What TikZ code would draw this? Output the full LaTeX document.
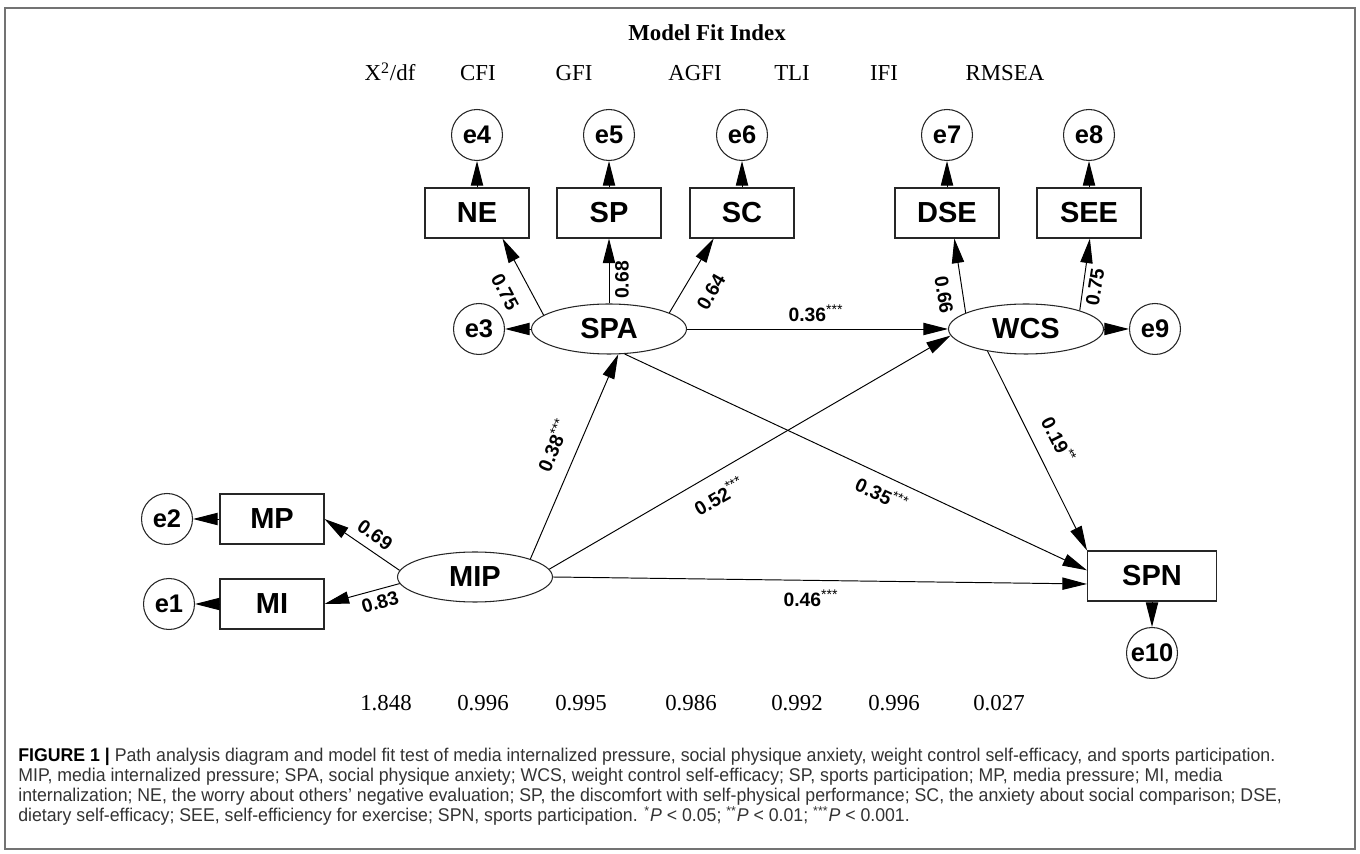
\documentclass[tikz,border=0pt]{standalone}
\usepackage{fontspec}
\setmainfont{Liberation Sans}
\newfontfamily\fitfont{Liberation Serif}
\newfontfamily\capfont[FakeStretch=0.96]{Liberation Sans}
\usetikzlibrary{arrows.meta,shapes.geometric}
\newcommand{\stars}[1]{\textsuperscript{\mdseries\fontsize{8}{8}\selectfont #1}}

\begin{document}
\begin{tikzpicture}[x=0.02cm,y=-0.02cm,
latent/.style={ellipse,draw=black!85,line width=0.6pt,minimum width=3.1cm,minimum height=1cm,inner sep=0pt,font=\bfseries\fontsize{16.5}{16.5}\selectfont},
observed/.style={rectangle,draw=black!85,line width=0.6pt,minimum width=2.08cm,minimum height=1cm,inner sep=0pt,font=\bfseries\fontsize{16.5}{16.5}\selectfont},
error/.style={circle,draw=black!85,line width=0.6pt,minimum size=1.02cm,inner sep=0pt,font=\bfseries\fontsize{14.5}{14.5}\selectfont},
edge/.style={line width=0.55pt},
arrowEnd/.style={-{Triangle[length=14pt,width=7pt]}},
coef/.style={inner sep=0pt,font=\bfseries\fontsize{11}{11}\selectfont},
fitText/.style={anchor=base,inner sep=0pt,font=\fitfont\fontsize{13}{13}\selectfont},
capLine/.style={anchor=base west,inner sep=0pt,font=\capfont\fontsize{10.5}{10.5}\selectfont,text=black!80},
]
\useasboundingbox (0,0) rectangle (1360,854);
\draw[black!55,line width=1pt] (5,8) rectangle (1355,849);
\node[fitText,font=\fitfont\bfseries\fontsize{13}{13}\selectfont] (fitTitle) at (707,41) {Model Fit Index};
\node[fitText] (hChi) at (390,81) {X\textsuperscript{2}/df};
\node[fitText] (hCFI) at (478,81) {CFI};
\node[fitText] (hGFI) at (574,81) {GFI};
\node[fitText] (hAGFI) at (695,81) {AGFI};
\node[fitText] (hTLI) at (792,81) {TLI};
\node[fitText] (hIFI) at (884,81) {IFI};
\node[fitText] (hRMSEA) at (1005,81) {RMSEA};
\node[fitText] (vChi) at (386,711) {1.848};
\node[fitText] (vCFI) at (483,711) {0.996};
\node[fitText] (vGFI) at (581,711) {0.995};
\node[fitText] (vAGFI) at (691,711) {0.986};
\node[fitText] (vTLI) at (797,711) {0.992};
\node[fitText] (vIFI) at (894,711) {0.996};
\node[fitText] (vRMSEA) at (999,711) {0.027};
\node[error] (e4) at (477,135) {e4};
\node[error] (e5) at (609,135) {e5};
\node[error] (e6) at (742,135) {e6};
\node[error] (e7) at (947,135) {e7};
\node[error] (e8) at (1089,135) {e8};
\node[observed] (NE) at (477,213) {NE};
\node[observed] (SP) at (609,213) {SP};
\node[observed] (SC) at (742,213) {SC};
\node[observed] (DSE) at (947,213) {DSE};
\node[observed] (SEE) at (1089,213) {SEE};
\node[error] (e3) at (479,329) {e3};
\node[latent] (SPA) at (609,329) {SPA};
\node[latent] (WCS) at (1026,329) {WCS};
\node[error] (e9) at (1155,329) {e9};
\node[error] (e2) at (167,519) {e2};
\node[observed] (MP) at (272,519) {MP};
\node[error] (e1) at (169,604) {e1};
\node[observed] (MI) at (272,604) {MI};
\node[latent] (MIP) at (475,577) {MIP};
\node[observed,minimum width=2.58cm] (SPN) at (1152,576) {SPN};
\node[error] (e10) at (1152,653) {e10};
\node[coef,rotate=-62] (cNE) at (505,292) {0.75};
\node[coef,rotate=90] (cSP) at (622,280) {0.68};
\node[coef,rotate=60] (cSC) at (711,292) {0.64};
\node[coef,rotate=-81] (cDSE) at (944,295) {0.66};
\node[coef,rotate=81] (cSEE) at (1095,287) {0.75};
\node[coef] (cSW) at (816,313) {0.36\stars{***}};
\node[coef,rotate=67] (cMS) at (553,445) {0.38\stars{***}};
\node[coef,rotate=30] (cMW) at (719,496) {0.52\stars{***}};
\node[coef,rotate=-25] (cSN) at (882,494) {0.35\stars{***}};
\node[coef,rotate=-63] (cWN) at (1059,440) {0.19\stars{**}};
\node[coef] (cMN) at (811,598) {0.46\stars{***}};
\node[coef,rotate=-35] (cMP) at (375,535) {0.69};
\node[coef,rotate=16] (cMI) at (380,602) {0.83};
\node[capLine] (cap1) at (18,762) {{\bfseries\color{black}FIGURE 1 |} Path analysis diagram and model fit test of media internalized pressure, social physique anxiety, weight control self-efficacy, and sports participation.};
\node[capLine] (cap2) at (18,782) {MIP, media internalized pressure; SPA, social physique anxiety; WCS, weight control self-efficacy; SP, sports participation; MP, media pressure; MI, media};
\node[capLine] (cap3) at (18,802) {internalization; NE, the worry about others’ negative evaluation; SP, the discomfort with self-physical performance; SC, the anxiety about social comparison; DSE,};
\node[capLine] (cap4) at (18,822) {dietary self-efficacy; SEE, self-efficiency for exercise; SPN, sports participation. \textsuperscript{*}\textit{P} < 0.05; \textsuperscript{**}\textit{P} < 0.01; \textsuperscript{***}\textit{P} < 0.001.};
\draw[edge,arrowEnd] (NE) -- (e4);
\draw[edge,arrowEnd] (SP) -- (e5);
\draw[edge,arrowEnd] (SC) -- (e6);
\draw[edge,arrowEnd] (DSE) -- (e7);
\draw[edge,arrowEnd] (SEE) -- (e8);
\draw[edge,arrowEnd] (SPA) -- (e3);
\draw[edge,arrowEnd] (WCS) -- (e9);
\draw[edge,arrowEnd] (MP) -- (e2);
\draw[edge,arrowEnd] (MI) -- (e1);
\draw[edge,arrowEnd] (SPN) -- (e10);
\draw[edge,arrowEnd] (SPA.168) -- (NE.-45);
\draw[edge,arrowEnd] (SPA.north) -- (SP.south);
\draw[edge,arrowEnd] (SPA.15) -- (SC.222);
\draw[edge,arrowEnd] (WCS.165) -- (DSE.-74);
\draw[edge,arrowEnd] (WCS.19) -- (SEE.-88);
\draw[edge,arrowEnd] (SPA.east) -- (WCS.west);
\draw[edge,arrowEnd] (MIP.18) -- (SPA.-70);
\draw[edge,arrowEnd] (MIP.6) -- (WCS.185);
\draw[edge,arrowEnd] (SPA.-58) -- (SPN.175);
\draw[edge,arrowEnd] (WCS.210) -- (SPN.north west);
\draw[edge,arrowEnd] (MIP.east) -- (SPN.187);
\draw[edge,arrowEnd] (MIP.175) -- (MP.east);
\draw[edge,arrowEnd] (MIP.185) -- (MI.east);
\end{tikzpicture}
\end{document}
